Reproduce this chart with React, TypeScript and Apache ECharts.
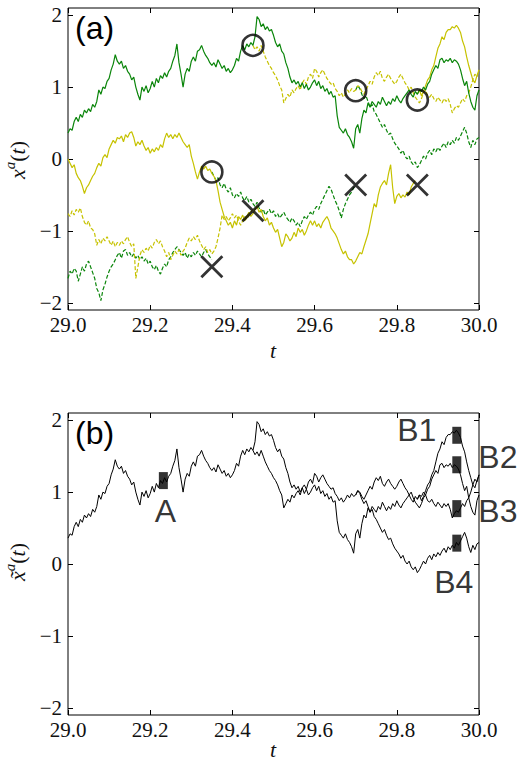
import React, { useEffect, useRef } from "react";
import * as echarts from "echarts";

const T0 = 29;
const DT = 0.005;

// (a) trajectories, sampled every 0.005 from their start index
const greenSolid = [
  0.36, 0.42, 0.40, 0.52, 0.58, 0.52, 0.62, 0.58, 0.68, 0.64,
  0.70, 0.66, 0.76, 0.72, 0.80, 0.96, 0.90, 1.00, 0.98, 1.08,
  1.12, 1.24, 1.32, 1.45, 1.36, 1.32, 1.36, 1.26, 1.30, 1.22,
  1.18, 1.10, 1.14, 1.00, 0.90, 0.82, 1.00, 0.94, 1.02, 0.92,
  0.98, 1.08, 1.00, 1.12, 1.06, 1.16, 1.12, 1.20, 1.14, 1.22,
  1.26, 1.36, 1.44, 1.60, 1.34, 1.18, 1.00, 1.18, 1.26, 1.22,
  1.36, 1.42, 1.36, 1.50, 1.52, 1.58, 1.50, 1.44, 1.40, 1.34,
  1.30, 1.34, 1.28, 1.38, 1.32, 1.26, 1.30, 1.22, 1.26, 1.20,
  1.24, 1.30, 1.40, 1.36, 1.50, 1.58, 1.52, 1.60, 1.56, 1.62,
  1.58, 1.70, 1.98, 1.94, 1.84, 1.88, 1.80, 1.84, 1.78, 1.80,
  1.72, 1.62, 1.56, 1.60, 1.50, 1.46, 1.34, 1.26, 1.14, 1.06,
  1.10, 1.04, 1.08, 1.00, 1.06, 0.98, 1.04, 0.96, 1.00, 1.06,
  1.10, 1.02, 1.08, 0.98, 1.02, 0.94, 0.98, 0.90, 0.94, 0.86,
  0.88, 0.60, 0.44, 0.40, 0.36, 0.42, 0.34, 0.30, 0.24, 0.15,
  0.42, 0.48, 0.36, 0.56, 0.68, 0.64, 0.78, 0.72, 0.80, 0.76,
  0.72, 0.80, 0.76, 0.86, 0.80, 0.74, 0.80, 0.76, 0.84, 0.80,
  0.88, 0.82, 0.78, 0.84, 0.88, 0.92, 0.96, 0.90, 0.86, 0.94,
  0.90, 0.96, 0.94, 1.00, 0.96, 1.04, 1.08, 1.18, 1.24, 1.30,
  1.26, 1.38, 1.40, 1.34, 1.38, 1.36, 1.40, 1.34, 1.38, 1.36,
  1.32, 1.24, 1.12, 1.02, 1.08, 0.92, 0.80, 0.72, 0.68, 0.88,
  0.96,
];

const yellowSolidEarly = [
  0.00, -0.06, -0.12, -0.08, -0.20, -0.26, -0.30, -0.38, -0.48, -0.40,
  -0.36, -0.30, -0.24, -0.20, -0.12, -0.06, -0.10, 0.02, 0.06, 0.02,
  0.14, 0.20, 0.26, 0.22, 0.30, 0.28, 0.32, 0.24, 0.34, 0.30,
  0.36, 0.38, 0.30, 0.18, 0.24, 0.20, 0.26, 0.18, 0.12, 0.16,
  0.08, 0.14, 0.10, 0.16, 0.12, 0.20, 0.16, 0.28, 0.36, 0.30,
  0.34, 0.28, 0.34, 0.30, 0.36, 0.30, 0.24, 0.20, 0.16, 0.20,
  0.04, -0.06, -0.18, -0.28, -0.18, -0.10, -0.14, -0.10, -0.16, -0.14,
  -0.20, -0.24, -0.30, -0.44, -0.60, -0.70, -0.80, -0.86, -0.92, -0.88,
  -0.96, -0.86, -0.92, -0.80, -0.84, -0.78, -0.86, -0.80, -0.74, -0.80,
  -0.76, -0.70, -0.66, -0.74, -0.70, -0.80, -0.86, -0.82, -0.92, -0.88,
  -0.96, -1.02, -0.98, -1.10, -1.22, -1.16, -1.04, -1.08, -1.14, -1.10,
  -1.02, -1.08, -0.96, -1.02, -0.98, -1.06, -1.00, -0.92, -0.86, -0.92,
  -0.86, -0.94, -0.90, -0.96, -0.88, -0.84, -0.80, -0.86, -0.96, -1.00,
  -1.04, -1.10, -1.18, -1.26, -1.32, -1.28, -1.36, -1.40, -1.40, -1.46,
  -1.42, -1.36, -1.30, -1.32, -1.22, -1.13, -1.04, -0.90, -0.76, -0.62,
  -0.67, -0.50, -0.39, -0.34, -0.30, -0.36, -0.20, -0.08, -0.40, -0.62,
  -0.52, -0.48, -0.54, -0.50, -0.53, -0.46, -0.50, -0.39, -0.34, -0.30,
];
const yellowSolidLate = [
  0.90, 0.96, 0.88, 0.94, 1.02, 1.10, 1.14, 1.24, 1.30, 1.42,
  1.54, 1.60, 1.70, 1.66, 1.76, 1.80, 1.80, 1.84, 1.82, 1.86,
  1.82, 1.76, 1.64, 1.56, 1.42, 1.30, 1.20, 1.10, 1.06, 1.16,
  1.24,
];

const yellowDashedEarly = [
  -0.76, -0.80, -0.72, -0.78, -0.70, -0.74, -0.68, -0.80, -0.88, -0.92,
  -0.86, -0.96, -0.98, -1.04, -1.20, -1.12, -1.18, -1.10, -1.14, -1.08,
  -1.14, -1.20, -1.14, -1.22, -1.16, -1.20, -1.14, -1.18, -1.12, -1.08,
  -1.16, -1.22, -1.18, -1.66, -1.50, -1.34, -1.26, -1.30, -1.24, -1.28,
  -1.20, -1.24, -1.16, -1.12, -1.18, -1.14, -1.22, -1.28, -1.36, -1.30,
  -1.40, -1.34, -1.28, -1.32, -1.26, -1.34, -1.28, -1.24, -1.16, -1.10,
  -1.14, -1.08, -1.12, -1.06, -1.14, -1.20, -1.26, -1.22, -1.30, -1.26,
  -1.32, -1.28, -1.22, -1.10, -0.96, -0.78, -0.84, -0.80, -0.86, -0.82,
  -0.76, -0.82, -0.78, -0.86, -0.92, -0.86, -0.80, -0.84, -0.78, -0.74,
  -0.70,
];
const yellowDashedLate = [
  1.58, 1.52, 1.56, 1.50, 1.58, 1.50, 1.42, 1.36, 1.30, 1.26,
  1.20, 1.16, 1.10, 1.02, 0.96, 0.78, 0.84, 0.90, 0.86, 0.96,
  0.92, 0.98, 1.02, 0.96, 1.06, 1.10, 1.04, 1.14, 1.18, 1.12,
  1.26, 1.22, 1.14, 1.20, 1.24, 1.18, 1.12, 1.08, 1.04, 1.06,
  0.98, 0.94, 0.88, 0.92, 0.86, 0.90, 0.96, 0.92, 0.98, 0.94,
  0.96, 1.02, 1.00, 0.94, 0.90, 0.96, 1.02, 1.08, 1.04, 1.14,
  1.20, 1.16, 1.22, 1.12, 1.08, 1.14, 1.18, 1.12, 1.08, 1.04,
  1.08, 1.14, 1.18, 1.12, 1.06, 1.02, 0.96, 1.00, 0.92, 0.86,
  0.82, 0.78, 0.84, 0.92, 0.96, 0.88, 0.86, 0.90, 0.84, 0.80,
  0.86, 0.82, 0.78, 0.84, 0.80, 0.84, 0.76, 0.64, 0.70, 0.74,
  0.72, 0.78, 0.84, 0.80, 0.88, 0.92, 1.00, 1.10, 1.18, 1.14,
  1.24,
];

const greenDashedEarly = [
  -1.66, -1.56, -1.60, -1.52, -1.56, -1.70, -1.60, -1.50, -1.56, -1.46,
  -1.42, -1.50, -1.58, -1.66, -1.80, -1.86, -1.97, -1.82, -1.74, -1.64,
  -1.56, -1.50, -1.46, -1.40, -1.34, -1.30, -1.38, -1.28, -1.26, -1.34,
  -1.30, -1.36, -1.32, -1.38, -1.34, -1.40, -1.36, -1.42, -1.38, -1.46,
  -1.42, -1.50, -1.54, -1.48, -1.56, -1.60, -1.52, -1.46, -1.50, -1.40,
  -1.36, -1.30, -1.26, -1.22, -1.26, -1.30, -1.34, -1.30, -1.38, -1.32,
  -1.36, -1.30, -1.34, -1.28, -1.32, -1.36, -1.30, -1.26, -1.32, -1.36,
  -1.40,
];
const greenDashedMid = [
  -0.18, -0.24, -0.30, -0.26, -0.36, -0.40, -0.34, -0.42, -0.46, -0.40,
  -0.50, -0.54, -0.48, -0.52, -0.46, -0.54, -0.58, -0.52, -0.60, -0.56,
  -0.62, -0.66, -0.60, -0.68, -0.74, -0.70, -0.78, -0.74, -0.70, -0.76,
  -0.72, -0.80, -0.76, -0.82, -0.78, -0.74, -0.80, -0.84, -0.88, -0.82,
  -0.86, -0.92, -0.88, -0.94, -0.86, -0.80, -0.84, -0.78, -0.74, -0.78,
  -0.70, -0.66, -0.70, -0.62, -0.56, -0.50, -0.44, -0.38, -0.42, -0.50,
  -0.58, -0.64, -0.72, -0.82, -0.70, -0.62, -0.56, -0.50, -0.46, -0.40,
  -0.36,
];
const greenDashedLate = [
  0.96, 1.02, 0.98, 0.90, 0.84, 0.88, 0.80, 0.72, 0.76, 0.66,
  0.62, 0.56, 0.50, 0.44, 0.48, 0.40, 0.34, 0.36, 0.28, 0.22,
  0.18, 0.14, 0.08, 0.12, 0.04, 0.00, 0.04, -0.04, -0.08, -0.04,
  -0.12, -0.08, -0.02, 0.04, 0.00, 0.08, 0.12, 0.06, 0.14, 0.10,
  0.16, 0.12, 0.18, 0.22, 0.16, 0.24, 0.20, 0.26, 0.22, 0.30,
  0.26, 0.32, 0.38, 0.44, 0.36, 0.24, 0.16, 0.26, 0.20, 0.28,
  0.30,
];

// start indices (in steps of DT from T0)
const startEarly = 0;
const startYellowSolidLate = 170;
const startYellowDashedLate = 90;
const startGreenDashedMid = 70;
const startGreenDashedLate = 140;

// cloning events in (a)
const circleT = [29.35, 29.45, 29.7, 29.85];
const circleV = [-0.18, 1.58, 0.95, 0.82];
const crossT = [29.35, 29.45, 29.7, 29.85];
const crossV = [-1.5, -0.72, -0.36, -0.36];

// markers in (b)
const markerNames = ["A", "B1", "B2", "B3", "B4"];
const markerT = [29.232, 29.946, 29.946, 29.946, 29.946];
const markerV = [1.16, 1.79, 1.38, 0.77, 0.29];

const xTicks = [29.0, 29.2, 29.4, 29.6, 29.8, 30.0];
const yTicks = [-2, -1, 0, 1, 2];

const GREEN = "#0a850a";
const YELLOW = "#c6c200";
const SERIF = "Liberation Serif";
const SANS = "Liberation Sans";

function pairs(values: number[], start: number) {
  return values.map((v, k) => [+(T0 + (start + k) * DT).toFixed(3), v]);
}

function xAxes(gridIndex: number) {
  const base = {
    type: "value",
    gridIndex,
    min: 29,
    max: 30,
    axisLine: { show: false, onZero: false },
    splitLine: { show: false },
    axisTick: { inside: true, length: 5, customValues: xTicks, lineStyle: { color: "#000", width: 1 } },
  };
  return [
    {
      ...base,
      position: "bottom",
      axisLabel: {
        customValues: xTicks,
        formatter: (v: number) => v.toFixed(1),
        fontFamily: SERIF,
        fontSize: 21,
        color: "#111",
        margin: 4,
      },
    },
    { ...base, position: "top", axisLabel: { show: false } },
  ];
}

function yAxes(gridIndex: number) {
  const base = {
    type: "value",
    gridIndex,
    min: -2.1,
    max: 2.1,
    axisLine: { show: false, onZero: false },
    splitLine: { show: false },
    axisTick: { inside: true, length: 5, customValues: yTicks, lineStyle: { color: "#000", width: 1 } },
  };
  return [
    {
      ...base,
      position: "left",
      axisLabel: {
        customValues: yTicks,
        formatter: (v: number) => (v < 0 ? "\u2212" + Math.abs(v) : String(v)),
        fontFamily: SERIF,
        fontSize: 21,
        color: "#111",
        margin: 6,
      },
    },
    { ...base, position: "right", axisLabel: { show: false } },
  ];
}

function line(data: number[][], axis: number, color: string, dashed: boolean, width = 1.2) {
  return {
    type: "line",
    xAxisIndex: axis,
    yAxisIndex: axis,
    data,
    showSymbol: false,
    symbol: "none",
    silent: true,
    clip: true,
    lineStyle: { color, width, type: dashed ? [4, 2] : "solid" },
  };
}

const labelPlacement: Record<string, any> = {
  A: { position: "bottom", distance: 6, offset: [2, 0] },
  B1: { position: "left", distance: 16, offset: [0, -5] },
  B2: { position: "right", distance: 17, offset: [0, -8] },
  B3: { position: "right", distance: 17, offset: [0, 2] },
  B4: { position: "bottom", distance: 14, offset: [-3, 0] },
};

function yLabel(x: number, y: number, tilde: boolean) {
  const xs = tilde ? "x\u0303" : "x";
  return {
    type: "text",
    x,
    y,
    rotation: Math.PI / 2,
    silent: true,
    style: {
      text: `{i|${xs}}{s|a}{n|(}{i|t}{n|)}`,
      align: "center",
      verticalAlign: "middle",
      rich: {
        i: { fontFamily: SERIF, fontStyle: "italic", fontSize: 22, fill: "#111", lineHeight: 30 },
        s: { fontFamily: SERIF, fontStyle: "italic", fontSize: 15, fill: "#111", verticalAlign: "top", lineHeight: 30 },
        n: { fontFamily: SERIF, fontSize: 22, fill: "#111", lineHeight: 30 },
      },
    },
  };
}

const option = {
  animation: false,
  backgroundColor: "#fff",
  grid: [
    { left: 68, top: 8, width: 411, height: 302, show: true, borderColor: "#000", borderWidth: 1, backgroundColor: "transparent" },
    { left: 68, top: 413, width: 411, height: 302, show: true, borderColor: "#000", borderWidth: 1, backgroundColor: "transparent" },
  ],
  xAxis: [...xAxes(0), ...xAxes(1)],
  yAxis: [...yAxes(0), ...yAxes(1)],
  series: [
    // panel (a): axes index 0 (bottom/left)
    line(pairs(greenDashedEarly, startEarly), 0, GREEN, true),
    line(pairs(greenDashedMid, startGreenDashedMid), 0, GREEN, true),
    line(pairs(greenDashedLate, startGreenDashedLate), 0, GREEN, true),
    line(pairs(yellowDashedEarly, startEarly), 0, YELLOW, true),
    line(pairs(yellowDashedLate, startYellowDashedLate), 0, YELLOW, true),
    line(pairs(yellowSolidEarly, startEarly), 0, YELLOW, false),
    line(pairs(yellowSolidLate, startYellowSolidLate), 0, YELLOW, false),
    line(pairs(greenSolid, startEarly), 0, GREEN, false),
    {
      type: "scatter",
      xAxisIndex: 0,
      yAxisIndex: 0,
      silent: true,
      z: 5,
      symbol: "circle",
      symbolSize: 21,
      itemStyle: { color: "rgba(0,0,0,0)", borderColor: "#000", borderWidth: 2.6 },
      data: circleT.map((t, i) => [t, circleV[i]]),
    },
    {
      type: "scatter",
      xAxisIndex: 0,
      yAxisIndex: 0,
      silent: true,
      z: 5,
      symbol: "path://M0 0L10 10M10 0L0 10",
      symbolSize: 21,
      itemStyle: { color: "rgba(0,0,0,0)", borderColor: "#000", borderWidth: 2.8 },
      data: crossT.map((t, i) => [t, crossV[i]]),
    },
    // panel (b): axes index 2
    line(pairs(greenSolid, startEarly), 2, "#000", false, 1),
    line(pairs(yellowDashedLate, startYellowDashedLate), 2, "#000", false, 1),
    line(pairs(yellowSolidLate, startYellowSolidLate), 2, "#000", false, 1),
    line(pairs(greenDashedLate, startGreenDashedLate), 2, "#000", false, 1),
    {
      type: "scatter",
      xAxisIndex: 2,
      yAxisIndex: 2,
      silent: true,
      z: 5,
      symbol: "rect",
      symbolSize: [9, 17],
      itemStyle: { color: "#000" },
      label: { show: true, formatter: "{b}", fontFamily: SANS, fontSize: 32, color: "#000" },
      data: markerNames.map((n, i) => ({
        name: n,
        value: [markerT[i], markerV[i]],
        label: { show: true, ...labelPlacement[n] },
      })),
    },
  ],
  graphic: [
    { type: "text", x: 75, y: 12, silent: true, style: { text: "(a)", fontFamily: SANS, fontSize: 32, fill: "#000" } },
    { type: "text", x: 75, y: 417, silent: true, style: { text: "(b)", fontFamily: SANS, fontSize: 32, fill: "#000" } },
    yLabel(17, 160, false),
    yLabel(17, 562, true),
    { type: "text", x: 273, y: 350, silent: true, style: { text: "t", fontFamily: SERIF, fontStyle: "italic", fontSize: 22, fill: "#111", align: "center", verticalAlign: "middle" } },
    { type: "text", x: 273, y: 749, silent: true, style: { text: "t", fontFamily: SERIF, fontStyle: "italic", fontSize: 22, fill: "#111", align: "center", verticalAlign: "middle" } },
  ],
};

export default function App() {
  const ref = useRef<HTMLDivElement>(null);
  useEffect(() => {
    if (!ref.current) return;
    const chart = echarts.init(ref.current, null, { renderer: "svg" });
    chart.setOption(option as any);
    return () => chart.dispose();
  }, []);
  return (
    <div
      ref={ref}
      style={{ position: "absolute", left: 0, top: 0, width: 528, height: 760, background: "#fff" }}
    />
  );
}
